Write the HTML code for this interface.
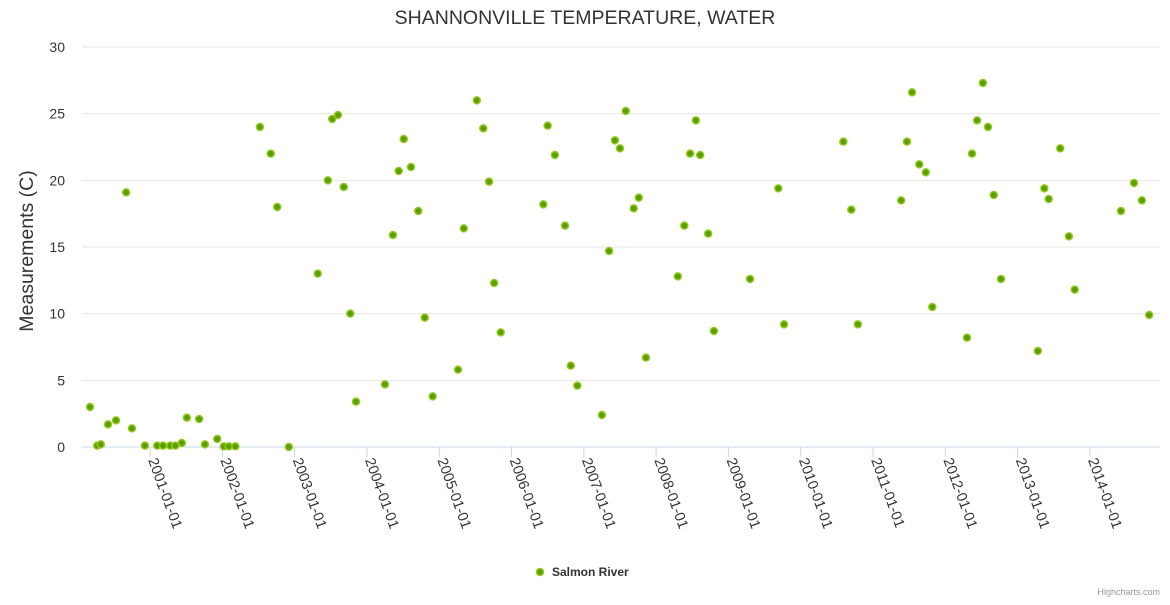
<!DOCTYPE html>
<html><head><meta charset="utf-8"><style>
body{margin:0;background:#fff;font-family:"Liberation Sans",sans-serif}
</style></head><body>
<svg id="chart" width="1170" height="600" xmlns="http://www.w3.org/2000/svg">
<text x="585" y="24" text-anchor="middle" font-size="19.5" fill="#333">SHANNONVILLE TEMPERATURE, WATER</text>
<text transform="translate(33,251) rotate(-90)" text-anchor="middle" font-size="19.5" fill="#333">Measurements (C)</text>
<g id="grid"></g><g id="xaxis"></g><g id="points"></g>
<g>
<circle cx="540" cy="572" r="3.5" fill="#5a9e00" stroke="#94c920" stroke-width="1.5"/>
<text x="552" y="576" font-size="12" font-weight="bold" fill="#333">Salmon River</text></g>
<text x="1160" y="595" text-anchor="end" font-size="9" fill="#999">Highcharts.com</text>
</svg>
<script>
const yTicks=[0,5,10,15,20,25,30];
const xTickYears=[2001,2002,2003,2004,2005,2006,2007,2008,2009,2010,2011,2012,2013,2014];
const xTickLabels=["2001-01-01","2002-01-01","2003-01-01","2004-01-01","2005-01-01","2006-01-01","2007-01-01","2008-01-01","2009-01-01","2010-01-01","2011-01-01","2012-01-01","2013-01-01","2014-01-01"];
const dates=[2000.17,2000.27,2000.32,2000.42,2000.53,2000.67,2000.75,2000.93,2001.10,2001.18,2001.28,2001.35,2001.44,2001.51,2001.68,2001.76,2001.93,2002.02,2002.09,2002.18,2002.52,2002.67,2002.76,2002.92,2003.32,2003.46,2003.52,2003.60,2003.68,2003.77,2003.85,2004.25,2004.36,2004.44,2004.51,2004.61,2004.71,2004.80,2004.91,2005.26,2005.34,2005.52,2005.61,2005.69,2005.76,2005.85,2006.44,2006.50,2006.60,2006.74,2006.82,2006.91,2007.25,2007.35,2007.43,2007.50,2007.58,2007.69,2007.76,2007.86,2008.30,2008.39,2008.47,2008.55,2008.61,2008.72,2008.80,2009.30,2009.69,2009.77,2010.59,2010.70,2010.79,2011.39,2011.47,2011.54,2011.64,2011.73,2011.82,2012.30,2012.37,2012.44,2012.52,2012.59,2012.67,2012.77,2013.28,2013.37,2013.43,2013.59,2013.71,2013.79,2014.43,2014.61,2014.72,2014.82];
const values=[3.0,0.1,0.2,1.7,2.0,19.1,1.4,0.1,0.1,0.1,0.1,0.1,0.3,2.2,2.1,0.2,0.6,0.05,0.05,0.05,24,22,18,0,13,20,24.6,24.9,19.5,10,3.4,4.7,15.9,20.7,23.1,21,17.7,9.7,3.8,5.8,16.4,26,23.9,19.9,12.3,8.6,18.2,24.1,21.9,16.6,6.1,4.6,2.4,14.7,23,22.4,25.2,17.9,18.7,6.7,12.8,16.6,22,24.5,21.9,16,8.7,12.6,19.4,9.2,22.9,17.8,9.2,18.5,22.9,26.6,21.2,20.6,10.5,8.2,22,24.5,27.3,24,18.9,12.6,7.2,19.4,18.6,22.4,15.8,11.8,17.7,19.8,18.5,9.9];
const NS="http://www.w3.org/2000/svg";
const X=t=>150+(t-2001)*72.3;
const Y=v=>447-v*(400/30);
function mk(tag,attrs,parent){const e=document.createElementNS(NS,tag);for(const k in attrs)e.setAttribute(k,attrs[k]);parent.appendChild(e);return e;}
const grid=document.getElementById('grid');
yTicks.forEach(v=>{
  const l=mk('line',{x1:82,x2:1160,y1:Y(v),y2:Y(v),stroke:v===0?'#ccd6eb':'#e6e6e6','stroke-width':1},grid);
  
  
  const t=mk('text',{x:65,y:Y(v)+5,'text-anchor':'end','font-size':14,fill:'#333'},grid);
  t.textContent=v;
  
  
});
const xa=document.getElementById('xaxis');
xTickYears.forEach((yr,i)=>{
  const x=X(yr);
  const l=mk('line',{x1:x,x2:x,y1:447,y2:457,stroke:'#ccd6eb'},xa);
  
  
  const t=mk('text',{transform:`translate(${x-2},460) rotate(70)`,'font-size':14.5,fill:'#333'},xa);
  t.textContent=xTickLabels[i];
  
  
});
const pg=document.getElementById('points');
dates.forEach((d,i)=>{
  const c=mk('circle',{cx:X(d),cy:Y(values[i]),r:3.5,fill:'#5a9e00',stroke:'#94c920','stroke-width':1.5},pg);
  
  
});
</script>
</body></html>
